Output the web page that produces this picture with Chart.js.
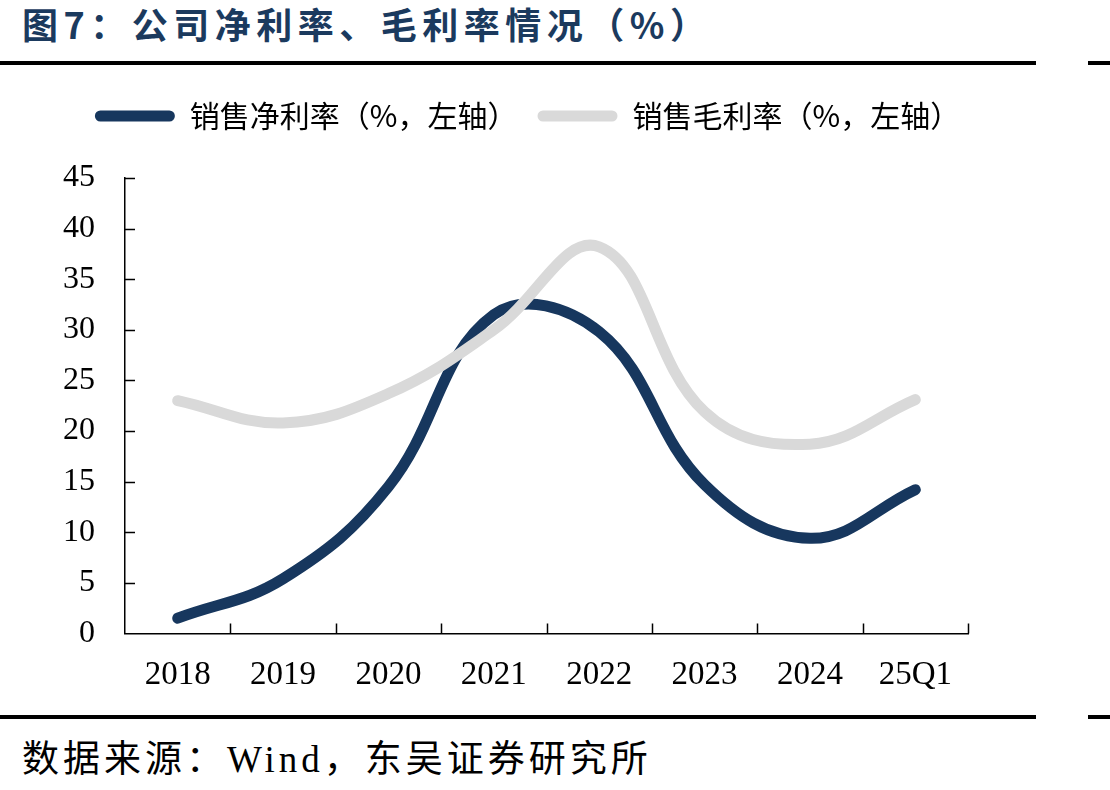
<!DOCTYPE html>
<html>
<head>
<meta charset="utf-8">
<script src="https://cdn.jsdelivr.net/npm/chart.js@4.4.0/dist/chart.umd.min.js"></script>
<style>
  body { margin: 0; background: #fff; width: 1110px; height: 790px; position: relative; overflow: hidden; }
  #titulo { position: absolute; left: 22px; top: -3px; font: bold 36px "Noto Sans CJK SC"; color: #1b3a5e; letter-spacing: 5.5px; white-space: nowrap; }
  .regla { position: absolute; height: 4px; background: #000; }
  #fuente { position: absolute; left: 22px; top: 729px; font: 37px "Liberation Serif", "Noto Sans CJK SC"; color: #000; letter-spacing: 4px; white-space: nowrap; }
  #grafico { position: absolute; left: 0; top: 80px; }
</style>
</head>
<body>
<div id="titulo">图7：公司净利率、毛利率情况（%）</div>
<div class="regla" style="left:0;top:61px;width:1036px"></div>
<div class="regla" style="left:1088px;top:61px;width:22px"></div>
<canvas id="grafico" width="1046" height="637"></canvas>
<div class="regla" style="left:0;top:715px;width:1036px"></div>
<div class="regla" style="left:1088px;top:715px;width:22px"></div>
<div id="fuente">数据来源：Wind，东吴证券研究所</div>

<script>
const categorias = ['2018', '2019', '2020', '2021', '2022', '2023', '2024', '25Q1'];
const margenNeto = [1.5, 5.4, 14.5, 31.5, 29.8, 14.7, 9.4, 14.2];
const margenBruto = [23.0, 20.8, 23.7, 30.0, 38.2, 21.9, 18.7, 23.1];
const nombreNeto = '销售净利率（%，左轴）';
const nombreBruto = '销售毛利率（%，左轴）';
const ticksY = [0, 5, 10, 15, 20, 25, 30, 35, 40, 45];

// marcas de eje hacia dentro, como en el original
const marcasInternas = {
    id: 'marcasInternas',
    beforeDatasetsDraw(chart) {
        const {ctx, chartArea, scales: {x, y}} = chart;
        ctx.save();
        ctx.strokeStyle = '#000';
        ctx.lineWidth = 1.5;
        ctx.beginPath();
        ticksY.forEach((v) => {
            if (v === 0) return;
            const py = Math.round(y.getPixelForValue(v)) + 0.5;
            ctx.moveTo(chartArea.left, py);
            ctx.lineTo(chartArea.left + 10, py);
        });
        for (let i = 1; i <= categorias.length; i++) {
            let px;
            if (i === categorias.length) px = chartArea.right;
            else px = (x.getPixelForValue(i - 1) + x.getPixelForValue(i)) / 2;
            px = Math.round(px) + 0.5;
            ctx.moveTo(px, chartArea.bottom);
            ctx.lineTo(px, chartArea.bottom - 10);
        }
        ctx.stroke();
        ctx.restore();
    }
};

// espacio extra debajo de la leyenda y pequeño corrimiento a la derecha
const margenLeyenda = {
    id: 'margenLeyenda',
    beforeInit(chart) {
        const fitOriginal = chart.legend.fit;
        chart.legend.fit = function () {
            fitOriginal.bind(chart.legend)();
            this.height += 37;
        };
    },
    afterLayout(chart) {
        chart.legend.left += 13;
        chart.legend.right += 13;
    }
};

const ctx = document.getElementById('grafico');
new Chart(ctx, {
    type: 'line',
    data: {
        labels: categorias,
        datasets: [{
            label: nombreNeto,
            data: margenNeto,
            borderColor: '#17375e',
            backgroundColor: '#17375e',
            borderWidth: 11,
            borderCapStyle: 'round',
            pointRadius: 0,
            tension: 0.4,
            order: 1
        }, {
            label: nombreBruto,
            data: margenBruto,
            borderColor: '#d9d9d9',
            backgroundColor: '#d9d9d9',
            borderWidth: 11,
            borderCapStyle: 'round',
            pointRadius: 0,
            tension: 0.4,
            order: 0
        }]
    },
    options: {
        responsive: false,
        devicePixelRatio: 1,
        animation: false,
        layout: { padding: { left: 61, right: 78, top: 1, bottom: 0 } },
        plugins: {
            tooltip: { enabled: false },
            legend: {
                position: 'top',
                labels: {
                    boxWidth: 80,
                    boxHeight: 11,
                    useBorderRadius: true,
                    borderRadius: 5.5,
                    padding: 20,
                    color: '#000',
                    font: { family: 'Noto Sans CJK SC', size: 30 },
                    sort: (a, b) => a.datasetIndex - b.datasetIndex,
                    generateLabels: (chart) => {
                        const items = Chart.defaults.plugins.legend.labels.generateLabels(chart);
                        items.forEach((it) => { it.lineWidth = 0; });
                        return items;
                    }
                }
            }
        },
        scales: {
            x: {
                offset: true,
                grid: { display: false, drawTicks: false },
                border: { display: true, color: '#000', width: 1.5 },
                ticks: { color: '#000', padding: 22, font: { family: 'Liberation Serif', size: 33 } }
            },
            y: {
                min: 0,
                max: 45,
                afterFit: (scale) => { scale.width = 64; },
                grid: { display: false, drawTicks: false },
                border: { display: true, color: '#000', width: 1.5 },
                ticks: { stepSize: 5, color: '#000', padding: 30, font: { family: 'Liberation Serif', size: 32 } }
            }
        }
    },
    plugins: [marcasInternas, margenLeyenda]
});
</script>
</body>
</html>
